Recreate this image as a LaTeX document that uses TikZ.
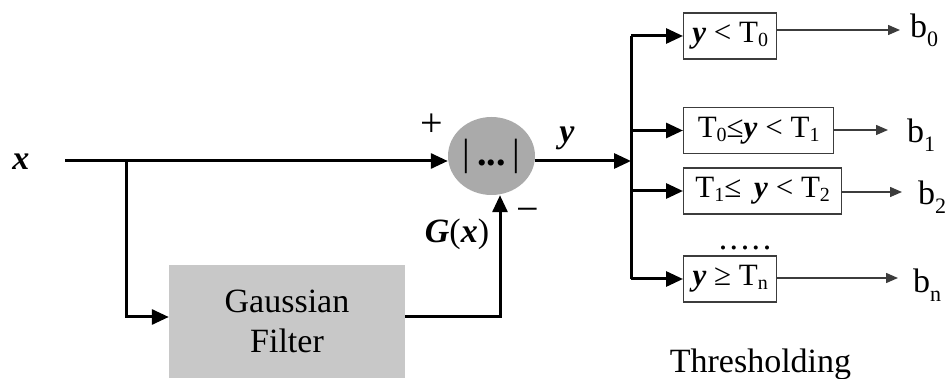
\documentclass[tikz,border=0pt]{standalone}
\usepackage{fontspec}
\setmainfont{Liberation Serif}
\usetikzlibrary{arrows.meta,shapes.geometric}
\definecolor{sumgray}{RGB}{170,170,170}
\definecolor{filtergray}{RGB}{200,200,200}
\definecolor{edge}{RGB}{60,60,60}
% lowered index for T and b
\newcommand\lowsub[1]{\raisebox{-4pt}{\fontsize{20}{20}\selectfont #1}}
\newcommand\bsub[1]{\raisebox{-9pt}{\fontsize{22}{22}\selectfont #1}}
\newcommand\bi[1]{\textbf{\textit{#1}}}
\begin{document}
\begin{tikzpicture}[x=1pt,y=-1pt,
  sig/.style={line width=3pt},
  thinline/.style={line width=1.4pt, draw=edge},
  bigtip/.style={-{Triangle[length=17pt,width=15pt]}},
  smalltip/.style={-{Triangle[length=12pt,width=10pt]}},
  lbl/.style={font=\fontsize{34}{40}\selectfont, inner sep=0pt},
  testbox/.style={draw=edge, line width=1.3pt, minimum height=46pt, anchor=west,
                  inner sep=0pt, font=\fontsize{31}{36}\selectfont},
]
\useasboundingbox (0,0) rectangle (948,379);

% blocks
\node[ellipse, fill=sumgray, minimum width=87pt, minimum height=78pt, inner sep=0pt,
      font=\fontsize{38}{40}\selectfont] (sum) at (491.5,156)
      {|\hspace{7pt}\textbf{...}\hspace{7pt}|};
\node[rectangle, fill=filtergray, minimum width=236pt, minimum height=113pt,
      align=center, font=\fontsize{34}{40}\selectfont] (filter) at (287,321.5) {Gaussian\\Filter};

\node[testbox, minimum width=93pt]  (t0) at (683,36)    {\bi{y} < T\lowsub{0}};
\node[testbox, minimum width=150pt] (t1) at (683,130.5) {T\lowsub{0}≤\bi{y} < T\lowsub{1}};
\node[testbox, minimum width=158pt] (t2) at (683,191)   {T\lowsub{1}≤ \,\bi{y} < T\lowsub{2}};
\node[testbox, minimum width=93pt]  (tn) at (683,279)   {\bi{y} ≥ T\lowsub{n}};

% labels
\node[lbl, anchor=base] (xlab) at (21,170) {\bi{x}};
\node[lbl, anchor=base] (ylab) at (567,143) {\bi{y}};
\node[lbl, anchor=base] (glab) at (457,243) {\bi{G}(\bi{x})};
\node[lbl, font=\fontsize{40}{40}\selectfont] (plus) at (432,125) {+};
\node[lbl, font=\fontsize{40}{40}\selectfont] (minus) at (528,215) {−};
\node[lbl, anchor=base] (dots) at (745,250) {.\hspace{2.5pt}.\hspace{2.5pt}.\hspace{2.5pt}.\hspace{2.5pt}.};
\node[lbl, anchor=base] (thr) at (760.5,373) {Thresholding};

\node[lbl, anchor=base west] (b0) at (910,38)  {b\bsub{0}};
\node[lbl, anchor=base west] (b1) at (907,143) {b\bsub{1}};
\node[lbl, anchor=base west] (b2) at (918,205) {b\bsub{2}};
\node[lbl, anchor=base west] (bn) at (913,293) {b\bsub{n}};

% junctions and arrow ends
\coordinate (xs) at (65,161);
\coordinate (br) at (126,161);
\coordinate (fo) at (500,317);
\coordinate (split) at (631,161);
\coordinate (e0) at (900,30);
\coordinate (e1) at (888,130);
\coordinate (e2) at (902,192);
\coordinate (en) at (898,278);

% signal paths
\draw[sig, bigtip] (xs) -- (sum.west |- xs);
\draw[sig, bigtip] (br) |- ([yshift=4.5pt]filter.west);
\draw[sig, bigtip] ([yshift=4.5pt]filter.east) -| (fo |- sum.south);
\draw[sig, bigtip] (sum.east |- split) -- (split);
\draw[sig] (split |- t0.west) -- (split |- tn.west);
\foreach \t in {t0,t1,t2,tn}
  \draw[sig, bigtip] (split |- \t.west) -- (\t.west);

% outputs
\draw[thinline, smalltip] (t0.east |- e0) -- (e0);
\draw[thinline, smalltip] (t1.east |- e1) -- (e1);
\draw[thinline, smalltip] (t2.east |- e2) -- (e2);
\draw[thinline, smalltip] (tn.east |- en) -- (en);
\end{tikzpicture}
\end{document}
